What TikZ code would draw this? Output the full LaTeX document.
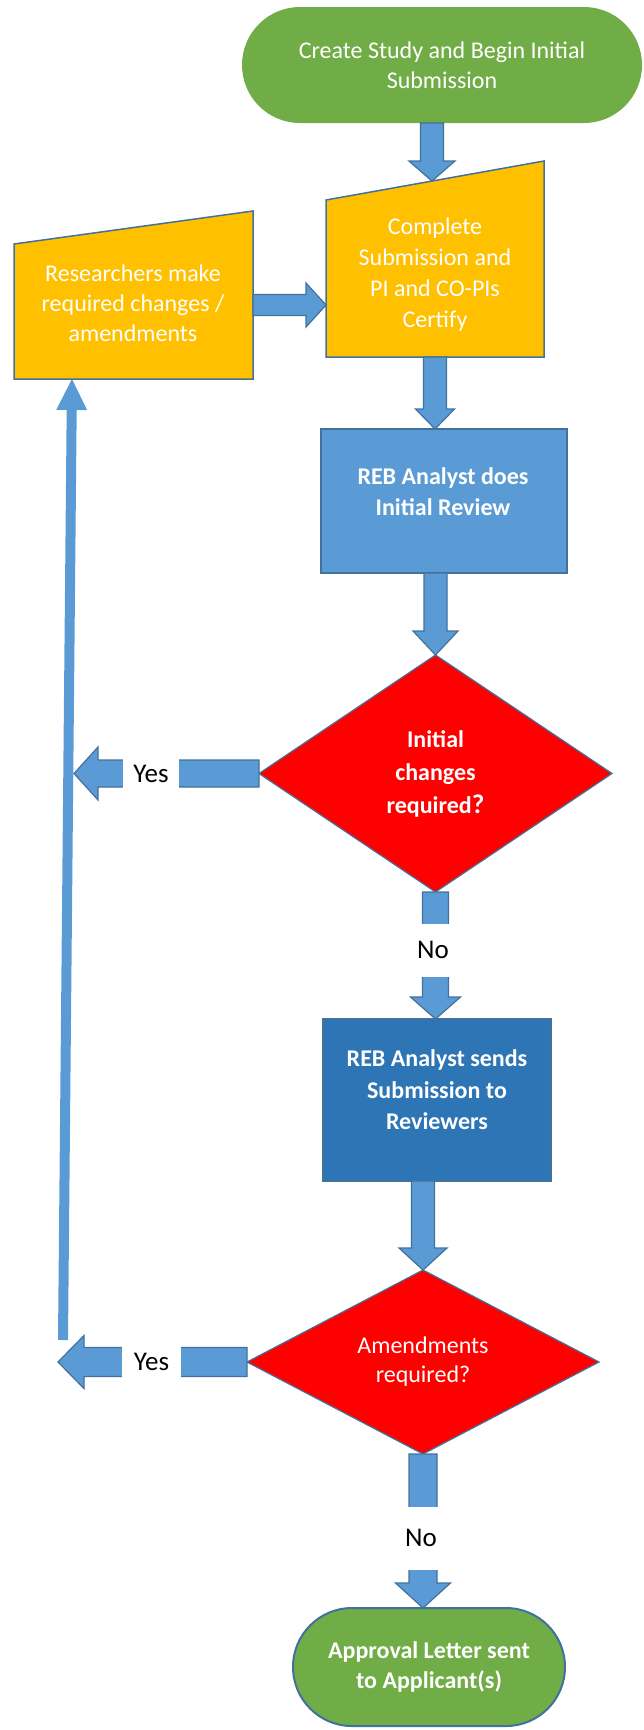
\documentclass[tikz,border=0pt]{standalone}
\usepackage{fontspec}
\setmainfont{Carlito}
\usetikzlibrary{shapes.geometric,calc}
\definecolor{cgreen}{HTML}{70AD47}
\definecolor{corange}{HTML}{FFC000}
\definecolor{cblue}{HTML}{5B9BD5}
\definecolor{cdblue}{HTML}{2E75B6}
\definecolor{cline}{HTML}{41719C}
\definecolor{cred}{HTML}{FF0000}
% #1 style, #2 start, #3 tip, #4 shaft half width, #5 head half width, #6 head length
\newcommand\blockarrow[6]{%
  \path let \p1=#2, \p2=#3 in \pgfextra{%
    \pgfmathsetmacro\baAng{atan2((\y2)-(\y1),(\x2)-(\x1))}%
    \pgfmathsetmacro\baLen{veclen((\x2)-(\x1),(\y2)-(\y1))}%
    \xdef\baAngG{\baAng}\xdef\baLenG{\baLen}\xdef\baXG{\x1}\xdef\baYG{\y1}};
  \path[#1,shift={(\baXG,\baYG)},rotate=\baAngG]
    (0,-#4) -- ({\baLenG-#6},-#4) -- ({\baLenG-#6},-#5) -- (\baLenG,0)
    -- ({\baLenG-#6},#5) -- ({\baLenG-#6},#4) -- (0,#4) -- cycle;
}
\begin{document}
\begin{tikzpicture}[x=1pt,y=-1pt,
  frame/.style={rectangle,inner sep=0pt,outer sep=0pt},
  term/.style={frame,fill=cgreen,text=white,align=center},
  inshape/.style={fill=corange,draw=cline,line width=1.5pt,line join=miter},
  proc/.style={frame,draw=cline,line width=1.3pt},
  dec/.style={diamond,inner sep=0pt,outer sep=0pt,fill=cred,draw=cline,line width=1.2pt,text=white,align=center},
  wtxt/.style={text=white,align=center,inner sep=0pt},
  barrow/.style={fill=cblue,draw=cline,line width=1.2pt,line join=miter},
  thinarrow/.style={fill=cblue},
  lbl/.style={fill=white,text=black,inner sep=0pt,font=\fontsize{27}{32}\selectfont}]
\useasboundingbox (0,0) rectangle (644,1730);

% shapes
\node[term,minimum width=400pt,minimum height=116pt,rounded corners=58pt,
      font=\fontsize{24}{30}\selectfont] (start) at (442,65)
      {Create Study and Begin Initial\\Submission};

\node[frame,minimum width=218pt,minimum height=196pt] (cs) at (435,259) {};
\coordinate (csTL) at ($(cs.north west)+(0,39)$);
\draw[inshape] (cs.south west) -- (cs.south east) -- (cs.north east) -- (csTL) -- cycle;

\node[frame,minimum width=239pt,minimum height=168pt] (rr) at (133.5,295) {};
\coordinate (rrTL) at ($(rr.north west)+(0,33)$);
\draw[inshape] (rr.south west) -- (rr.south east) -- (rr.north east) -- (rrTL) -- cycle;

\node[proc,fill=cblue,minimum width=246pt,minimum height=144pt] (rev1) at (444,501) {};

\node[dec,minimum width=353pt,minimum height=237pt,font=\bfseries\fontsize{24}{33}\selectfont]
      (d1) at (435.5,773.5) {Initial\\changes\\required{\fontsize{27}{33}\selectfont ?}};

\node[proc,fill=cdblue,minimum width=228pt,minimum height=162pt] (rev2) at (437,1100) {};

\node[dec,minimum width=352pt,minimum height=184pt,font=\fontsize{24}{29}\selectfont]
      (d2) at (423,1362) {Amendments\\required?};

\node[term,draw=cline,line width=2pt,minimum width=272pt,minimum height=118pt,rounded corners=59pt,
      font=\bfseries\fontsize{24}{30}\selectfont] (end) at (429,1667)
      {Approval Letter sent\\to Applicant(s)};

% texts of shapes
\node[wtxt,font=\fontsize{24}{31}\selectfont] (cst) at (435,275)
      {Complete\\Submission and\\PI and CO-PIs\\Certify};
\node[wtxt,font=\fontsize{24}{30}\selectfont] (rrt) at (133,303)
      {Researchers make\\required changes /\\amendments};
\node[wtxt,font=\bfseries\fontsize{24}{31}\selectfont] (rev1t) at (443,492)
      {REB Analyst does\\Initial Review};
\node[wtxt,font=\bfseries\fontsize{24}{31.5}\selectfont] (rev2t) at (437,1090)
      {REB Analyst sends\\Submission to\\Reviewers};

% connector end points
\coordinate (t1) at ($(csTL)!0.486!(cs.north east)$);
\coordinate (t7) at ([yshift=-46pt]cs.west);
\coordinate (y1) at ([xshift=-185pt]d1.west);
\coordinate (y2) at ([xshift=-189pt]d2.west);
\coordinate (vb) at (63,1340);
\coordinate (vt) at ([xshift=-61.5pt]rr.south);

% block arrows
\blockarrow{barrow}{(start.south -| t1)}{(t1)}{11.5}{23}{20}
\blockarrow{barrow}{(cs.south)}{(rev1.north -| cs.south)}{11.5}{19.5}{20}
\blockarrow{barrow}{(rev1.south -| d1.north)}{(d1.north)}{11.5}{22.5}{24}
\blockarrow{barrow}{(d1.south)}{(rev2.north -| d1.south)}{13}{25}{22}
\blockarrow{barrow}{(rev2.south -| d2.north)}{(d2.north)}{11.5}{24}{22}
\blockarrow{barrow}{(d2.south)}{(end.north -| d2.south)}{14}{27.5}{25}
\blockarrow{barrow}{(rr.east |- t7)}{(t7)}{10.5}{22}{20}
\blockarrow{barrow}{(d1.west)}{(y1)}{13.5}{26.5}{24}
\blockarrow{barrow}{(d2.west)}{(y2)}{14.5}{26.5}{26}
\blockarrow{thinarrow}{(vb)}{(vt)}{5}{15.5}{31}

% labels
\node[lbl,minimum width=56pt,minimum height=40pt] (yes1) at (151,773.5) {Yes};
\node[lbl,minimum width=59pt,minimum height=40pt] (yes2) at (151.5,1362) {Yes};
\node[lbl,minimum width=40pt,minimum height=53pt] (no1) at (433,950) {No};
\node[lbl,minimum width=40pt,minimum height=63pt] (no2) at (421,1538) {No};
\end{tikzpicture}
\end{document}
